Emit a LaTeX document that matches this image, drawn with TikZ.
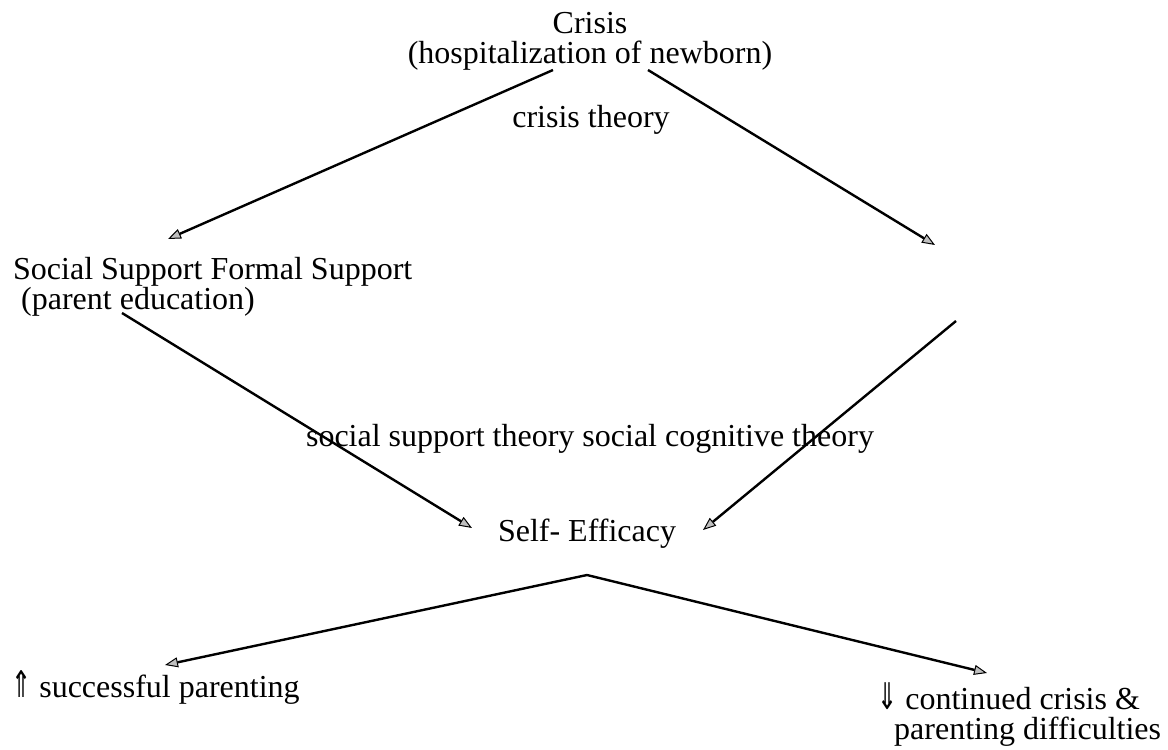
\documentclass[tikz,border=0pt]{standalone}
\usepackage{fontspec}
\setmainfont{Liberation Serif}
\newfontfamily\arrowfont{DejaVu Sans}
\usetikzlibrary{arrows.meta}

\tikzset{
  txt/.style={inner sep=0pt, font=\fontsize{32}{30}\selectfont},
  arr/.style={-{Triangle[length=13pt,width=10pt,fill=gray!50,line width=1pt]}, line width=2.4pt}
}
\newcommand{\upsym}{{\arrowfont\scalebox{0.75}[1.15]{⇑}}}
\newcommand{\downsym}{{\arrowfont\scalebox{0.75}[1.15]{⇓}}}

\begin{document}
\begin{tikzpicture}[x=1pt,y=-1pt]
  \useasboundingbox (0,0) rectangle (1168,750);
  % labels
  \node[txt, anchor=north, align=center] (crisis) at (590,12) {Crisis\\(hospitalization of newborn)};
  \node[txt, anchor=base] (ctheory) at (591,127) {crisis theory};
  \node[txt, anchor=north west, align=left] (support) at (13,257) {Social Support Formal Support\\\hspace{8pt}(parent education)};
  \node[txt, anchor=base] (stheory) at (590,446) {social support theory social cognitive theory};
  \node[txt, anchor=base] (efficacy) at (587,541) {Self- Efficacy};
  \node[txt, anchor=base west] (success) at (11,697) {\upsym\ successful parenting};
  \node[txt, anchor=north west, align=left] (difficult) at (877,682) {\downsym\ continued crisis \&\\\hspace{17pt}parenting difficulties};
  % end points
  \coordinate (crisis-l) at (553,70);
  \coordinate (crisis-r) at (648,70);
  \coordinate (support-in) at (168,239);
  \coordinate (support-out) at (122,313);
  \coordinate (blank-in) at (935,245);
  \coordinate (blank-out) at (956,321);
  \coordinate (efficacy-l) at (472,528);
  \coordinate (efficacy-r) at (703,530);
  \coordinate (efficacy-out) at (587,575);
  \coordinate (success-in) at (165,665);
  \coordinate (difficult-in) at (987,673);
  % connectors
  \path[arr]
  (crisis-l) edge (support-in)
  (crisis-r) edge (blank-in)
  (support-out) edge (efficacy-l)
  (blank-out) edge (efficacy-r)
  (efficacy-out) edge (success-in)
  (efficacy-out) edge (difficult-in)
  ;
\end{tikzpicture}
\end{document}
